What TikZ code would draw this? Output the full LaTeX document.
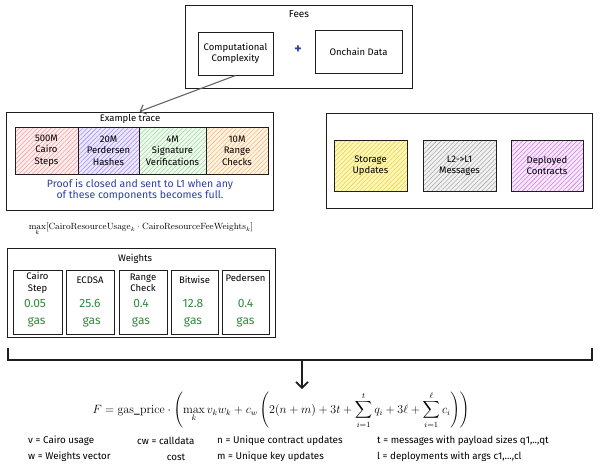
\documentclass[tikz,border=0pt]{standalone}
\usepackage[no-math]{fontspec}
\setmainfont{Fira Sans}
\usepackage{amsmath}
\usetikzlibrary{arrows.meta,patterns.meta}
\definecolor{inkblack}{HTML}{1E1E1E}
\definecolor{noteblue}{HTML}{2B3FA0}
\definecolor{gasgreen}{HTML}{2F8A3C}
\definecolor{redfill}{HTML}{FFEDED}
\definecolor{redline}{HTML}{F0A0A0}
\definecolor{purplefill}{HTML}{EEE8FF}
\definecolor{purpleline}{HTML}{A08CF0}
\definecolor{greenfill}{HTML}{EFFBEF}
\definecolor{greenline}{HTML}{9ED99A}
\definecolor{orangefill}{HTML}{FFF3E4}
\definecolor{orangeline}{HTML}{F5B87A}
\definecolor{yellowfill}{HTML}{FFF6B8}
\definecolor{yellowline}{HTML}{E8D44A}
\definecolor{grayfill}{HTML}{F2F2F2}
\definecolor{grayline}{HTML}{A8A8A8}
\definecolor{pinkfill}{HTML}{F8E8FC}
\definecolor{pinkline}{HTML}{D07AE8}
\begin{document}
\begin{tikzpicture}[x=1pt,y=-1pt]
    \tikzset{every node/.style={inner sep=0pt, align=center, font=\fontsize{9.5}{11.5}\selectfont}}
    \tikzset{box/.style={draw=inkblack, line width=1pt}}
    \tikzset{hatch/.style 2 args={box, preaction={fill=#1}, preaction={pattern={Lines[angle=45,distance=3.2pt,line width=0.55pt]}, pattern color=#2}}}
    \tikzset{gasval/.style={text=gasgreen, font=\fontsize{12}{17}\selectfont}}
    \tikzset{legend/.style={anchor=west, font=\fontsize{9.8}{11}\selectfont}}
    \useasboundingbox (0,0) rectangle (600,469);
    % fees
    \node[box, minimum width=227, minimum height=83] (fees) at (298.5,46.5) {};
    \node[font=\fontsize{10}{11}\selectfont] (feestitle) at (299,14) {Fees};
    \node[box, minimum width=75, minimum height=43] (compcx) at (235.5,53.5) {Computational\\Complexity};
    \node[text=noteblue, font=\bfseries\fontsize{14}{14}\selectfont] (plus) at (298,50) {+};
    \node[box, minimum width=87, minimum height=43] (onchain) at (358.5,51.5) {Onchain Data};
    % example trace
    \node[box, minimum width=267, minimum height=98] (trace) at (139.5,161) {};
    \node (tracetitle) at (130,119) {Example trace};
    \node[hatch={redfill}{redline}, minimum width=63, minimum height=47] (steps) at (46.5,150.5) {500M\\Cairo\\Steps};
    \node[hatch={purplefill}{purpleline}, minimum width=61, minimum height=47] (hashes) at (108.5,150.5) {20M\\Perdersen\\Hashes};
    \node[hatch={greenfill}{greenline}, minimum width=67, minimum height=47] (sigs) at (172.5,150.5) {4M\\Signature\\Verifications};
    \node[hatch={orangefill}{orangeline}, minimum width=62, minimum height=47] (ranges) at (237,150.5) {10M\\Range\\Checks};
    \node[text=noteblue, font=\fontsize{10.5}{11}\selectfont] (note) at (140,190) {Proof is closed and sent to L1 when any\\of these components becomes full.};
    \draw[inkblack!70, line width=1.1pt, -{Straight Barb[length=5pt]}] (compcx.south) -- (trace.north);
    % onchain data
    \node[box, minimum width=266, minimum height=95] (costs) at (459,160.5) {};
    \node[hatch={yellowfill}{yellowline}, minimum width=73, minimum height=51] (storage) at (370.5,165.5) {Storage\\Updates};
    \node[hatch={grayfill}{grayline}, minimum width=73, minimum height=51] (msgs) at (459.5,165.5) {L2-{}>L1\\Messages};
    \node[hatch={pinkfill}{pinkline}, minimum width=72, minimum height=51] (deployed) at (547,165.5) {Deployed\\Contracts};
    % usage formula
    \node[font=\fontsize{9}{11}\selectfont] (usage) at (141,229) {$\max\limits_k[\mathrm{CairoResourceUsage}_k\cdot\mathrm{CairoResourceFeeWeights}_k]$};
    % weights
    \node[box, minimum width=268, minimum height=89] (weights) at (141,292.5) {};
    \node (weightstitle) at (135,259) {Weights};
    \node[box, minimum width=49, minimum height=64] (wcairo) at (37.5,302) {};
    \node[box, minimum width=48, minimum height=64] (wecdsa) at (90,302) {};
    \node[box, minimum width=48, minimum height=64] (wrange) at (143,302) {};
    \node[box, minimum width=47, minimum height=64] (wbitwise) at (194.5,302) {};
    \node[box, minimum width=47, minimum height=64] (wpedersen) at (245.5,302) {};
    \node (caironame) at (37.5,283) {Cairo\\Step};
    \node (ecdsaname) at (90,280) {ECDSA};
    \node (rangename) at (143,283) {Range\\Check};
    \node (bitwisename) at (194.5,280) {Bitwise};
    \node (pedersenname) at (245.5,278) {Pedersen};
    \node[gasval] (cairoval) at (35,313.5) {0.05\\\ gas};
    \node[gasval] (ecdsaval) at (90,313.5) {25.6\\\ gas};
    \node[gasval] (rangeval) at (141,313.5) {0.4\\gas};
    \node[gasval] (bitwiseval) at (193,313.5) {12.8\\gas};
    \node[gasval] (pedersenval) at (245.5,313.5) {0.4\\gas};
    % bracket and arrow
    \coordinate (bl) at (8,348);
    \coordinate (br) at (592,348);
    \coordinate (mid) at (302,360);
    \coordinate (tip) at (302,389);
    \draw[inkblack, line width=2.2pt] (bl) -- (bl |- mid) -- (br |- mid) -- (br);
    \draw[inkblack, line width=1.6pt, -{Straight Barb[length=6pt]}] (mid) -- (tip);
    % gas formula
    \node[font=\fontsize{11.8}{13}\selectfont] (formula) at (281,410) {$\displaystyle F=\mathrm{gas}\_\mathrm{price}\cdot\left(\max_k v_kw_k+c_w\left(2(n+m)+3t+\sum_{i=1}^{t}q_i+3\ell+\sum_{i=1}^{\ell}c_i\right)\right)$};
    % legend
    \node[legend] (vnote) at (28,441) {v = Cairo usage};
    \node[legend] (wnote) at (28,457) {w = Weights vector};
    \node[legend] (cwnote) at (137,441) {cw = calldata};
    \node[font=\fontsize{9.8}{11}\selectfont] (costnote) at (176,457) {cost};
    \node[legend] (nnote) at (217,441) {n = Unique contract updates};
    \node[legend] (mnote) at (217,457) {m = Unique key updates};
    \node[legend] (tnote) at (377,441) {t = messages with payload sizes q1,..,qt};
    \node[legend] (lnote) at (377,457) {l = deployments with args c1,...,cl};
\end{tikzpicture}
\end{document}
